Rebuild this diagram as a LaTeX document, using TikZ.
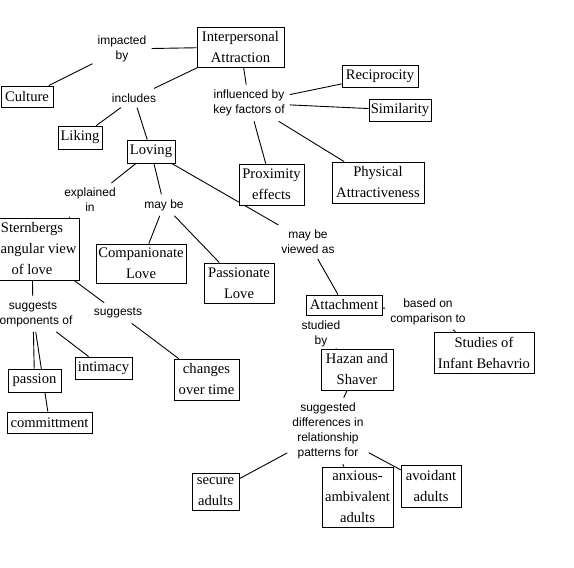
\documentclass[tikz,border=0pt]{standalone}
\usepackage{fontspec}
\setmainfont{Liberation Serif}
\setsansfont{Liberation Sans}
\pgfdeclarelayer{bg}
\pgfsetlayers{bg,main}
\begin{document}
\begin{tikzpicture}[x=1pt,y=-1pt,
  box/.style={draw, line width=0.8pt, fill=white, align=center, inner sep=0pt,
    font=\fontsize{14.6}{21}\selectfont},
  lbl/.style={align=center, inner sep=5pt, font=\sffamily\fontsize{12}{15}\selectfont},
  conn/.style={line width=0.9pt}]
\useasboundingbox (0,0) rectangle (574,568);
% concept boxes
\node[box, minimum width=87, minimum height=40] (ia) at (240.5,47) {Interpersonal\\Attraction};
\node[box, minimum width=52, minimum height=21] (culture) at (27,96.5) {Culture};
\node[box, minimum width=44, minimum height=23] (liking) at (80,137.5) {Liking};
\node[box, minimum width=48, minimum height=23] (loving) at (151,151.5) {Loving};
\node[box, minimum width=76, minimum height=22] (recip) at (380,76) {Reciprocity};
\node[box, minimum width=62, minimum height=22] (simil) at (400,110) {Similarity};
\node[box, minimum width=65, minimum height=41] (prox) at (271.5,184.5) {Proximity\\effects};
\node[box, minimum width=92, minimum height=41] (phys) at (378,182.5) {Physical\\Attractiveness};
\node[box, minimum width=94, minimum height=62] (stern) at (32,249) {Sternbergs\\triangular view\\of love};
\node[box, minimum width=90, minimum height=39] (comp) at (141,263.5) {Companionate\\Love};
\node[box, minimum width=70, minimum height=40] (pass) at (239,283) {Passionate\\Love};
\node[box, minimum width=65, minimum height=41] (changes) at (206.5,379.5) {changes\\over time};
\node[box, minimum width=57, minimum height=22] (intim) at (103.5,368) {intimacy};
\node[box, minimum width=53, minimum height=23] (passion) at (34.5,380.5) {passion};
\node[box, minimum width=85, minimum height=21] (commit) at (49.5,422.5) {committment};
\node[box, minimum width=76, minimum height=20] (attach) at (344,305) {Attachment};
\node[box, minimum width=72, minimum height=41] (hazan) at (357,369.5) {Hazan and\\Shaver};
\node[box, minimum width=100, minimum height=41] (studies) at (484,352.5) {Studies of\\Infant Behavrio};
\node[box, minimum width=47, minimum height=37] (secure) at (215.5,491.5) {secure\\adults};
\node[box, minimum width=71, minimum height=60] (anx) at (357.5,497) {anxious-\\ambivalent\\adults};
\node[box, minimum width=60, minimum height=42] (avoid) at (431,486) {avoidant\\adults};
% linking phrases
\node[lbl] (impacted) at (122,49) {impacted\\by};
\node[lbl] (includes) at (134,98) {includes};
\node[lbl] (influenced) at (249,103) {influenced by\\key factors of};
\node[lbl] (explained) at (90,200) {explained\\in};
\node[lbl] (maybe) at (164,205) {may be};
\node[lbl] (viewed) at (308,242) {may be\\viewed as};
\node[lbl] (suggA) at (33,314) {suggests\\components of};
\node[lbl] (suggB) at (118,313) {suggests};
\node[lbl] (studied) at (321,334) {studied\\by};
\node[lbl] (based) at (428,311.5) {based on\\comparison to};
\node[lbl] (suggested) at (328,431) {suggested\\differences in\\relationship\\patterns for};
% connectors
\begin{pgfonlayer}{bg}
\fill[white] (0,0) rectangle (574,568);
\draw[conn] (culture) -- (impacted);
\draw[conn] (impacted) -- (ia);
\draw[conn] (ia) -- (includes);
\draw[conn] (includes) -- (liking);
\draw[conn] (includes) -- (loving);
\draw[conn] (ia) -- (influenced);
\draw[conn] (influenced) -- (recip);
\draw[conn] (influenced) -- (simil);
\draw[conn] (influenced) -- (prox);
\draw[conn] (influenced) -- (phys);
\draw[conn] (loving) -- (explained);
\draw[conn] (explained) -- (stern);
\draw[conn] (loving) -- (maybe);
\draw[conn] (maybe) -- (comp);
\draw[conn] (maybe) -- (pass);
\draw[conn] (loving) -- (viewed);
\draw[conn] (viewed) -- (attach);
\draw[conn] (stern) -- (suggA);
\draw[conn] (suggA) -- (intim);
\draw[conn] (suggA) -- (passion);
\draw[conn] (suggA) -- (commit);
\draw[conn] (stern) -- (suggB);
\draw[conn] (suggB) -- (changes);
\draw[conn] (attach) -- (studied);
\draw[conn] (studied) -- (hazan);
\draw[conn] (attach) -- (based);
\draw[conn] (based) -- (studies);
\draw[conn] (hazan) -- (suggested);
\draw[conn] (suggested) -- (secure);
\draw[conn] (suggested) -- (anx);
\draw[conn] (suggested) -- (avoid);
\end{pgfonlayer}
\end{tikzpicture}
\end{document}
